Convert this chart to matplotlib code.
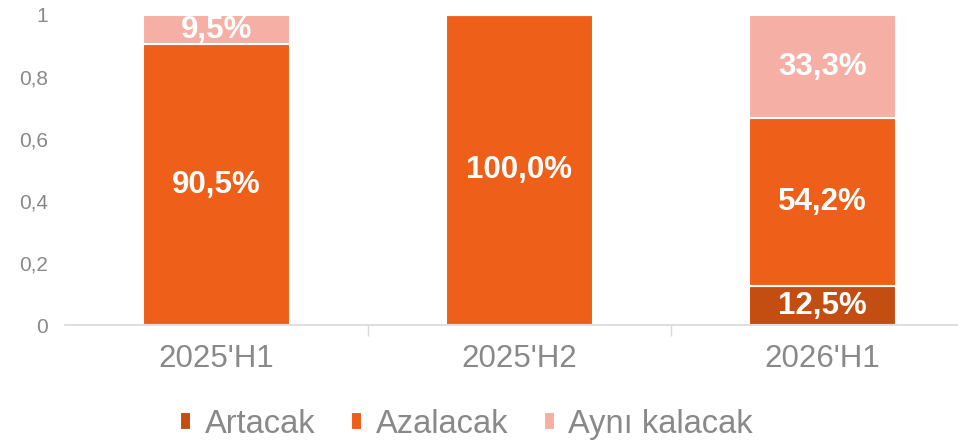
import matplotlib.pyplot as plt
import numpy as np

plt.rcParams["font.family"] = ["Liberation Sans", "DejaVu Sans"]

periods = ["2025'H1", "2025'H2", "2026'H1"]
series_names = ["Artacak", "Azalacak", "Aynı kalacak"]
artacak = [0.0, 0.0, 0.125]
azalacak = [0.905, 1.0, 0.542]
ayni = [0.095, 0.0, 0.333]
colors = ["#C44D12", "#EE5F1A", "#F5AFA4"]
yticks = [0, 0.2, 0.4, 0.6, 0.8, 1]

fig = plt.figure(figsize=(9.58, 4.44), dpi=100)
ax = fig.add_axes([65 / 958, 119 / 444, 909 / 958, 310 / 444])

x = np.arange(len(periods))
bottom = np.zeros(len(periods))
for name, vals, col in zip(series_names, [artacak, azalacak, ayni], colors):
    vals = np.array(vals)
    ax.bar(x, vals, width=0.485, bottom=bottom, color=col, edgecolor="white",
           linewidth=1.5, label=name)
    for xi, b, v in zip(x, bottom, vals):
        if v > 0:
            ax.text(xi, b + v / 2, f"{v * 100:.1f}%".replace(".", ","),
                    ha="center", va="center", color="white",
                    fontsize=22.5, fontweight="bold")
    bottom += vals

ax.set_xlim(-0.5, 2.5)
ax.set_ylim(0, 1)
ax.set_yticks(yticks)
ax.set_yticklabels([f"{t:g}".replace(".", ",") for t in yticks])
ax.tick_params(axis="y", length=0, labelsize=15, labelcolor="#898989", pad=12)

ax.set_xticks(x)
ax.set_xticklabels(periods)
ax.set_xticks([0.5, 1.5], minor=True)
ax.tick_params(axis="x", which="major", length=0, labelsize=22.5, labelcolor="#898989", pad=14)
ax.tick_params(axis="x", which="minor", length=8, color="#D9D9D9", width=1)

for s in ["top", "right", "left"]:
    ax.spines[s].set_visible(False)
ax.spines["bottom"].set_color("#D9D9D9")
ax.spines["bottom"].set_linewidth(1.2)

leg = fig.legend(loc="center", bbox_to_anchor=(0.487, 0.045), ncol=3, frameon=False,
                 fontsize=23.5, handlelength=0.35, handleheight=0.5,
                 handletextpad=0.4, columnspacing=1.1)
for t in leg.get_texts():
    t.set_color("#898989")

plt.savefig("out.png", dpi=100)
